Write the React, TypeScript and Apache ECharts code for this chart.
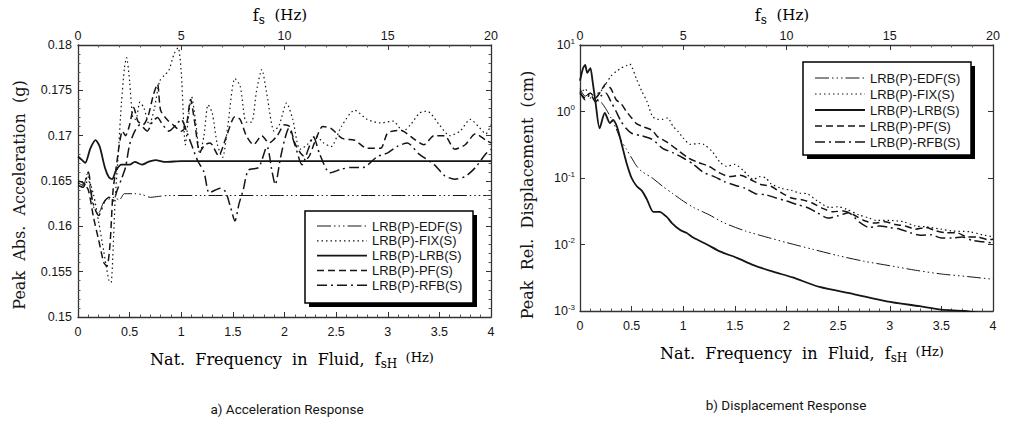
import React, { useEffect, useRef } from "react";
import * as echarts from "echarts";

const seriesNames = ["LRB(P)-EDF(S)", "LRB(P)-FIX(S)", "LRB(P)-LRB(S)", "LRB(P)-PF(S)", "LRB(P)-RFB(S)"];
const captions = ["a) Acceleration Response", "b) Displacement Response"];

// a) Peak absolute acceleration (g) vs f_sH (Hz)
const accEDF: [number, number][] = [
  [0, 0.1648], [0.05, 0.1645], [0.09, 0.1658], [0.12, 0.1640], [0.16, 0.1618], [0.2, 0.1615], [0.25, 0.1627],
  [0.3, 0.163], [0.35, 0.1632], [0.4, 0.1629], [0.45, 0.1636], [0.55, 0.1636], [0.62, 0.1635], [0.7, 0.1632],
  [0.78, 0.1633], [0.88, 0.1634], [1.2, 0.1634], [2, 0.1634], [3, 0.1634], [4, 0.1634],
];
const accFIX: [number, number][] = [
  [0, 0.1648], [0.05, 0.1646], [0.1, 0.165], [0.15, 0.1635], [0.2, 0.1605], [0.25, 0.1572], [0.3, 0.154],
  [0.32, 0.1538], [0.34, 0.1575], [0.36, 0.163], [0.39, 0.168], [0.42, 0.1735], [0.45, 0.1775], [0.47, 0.1786],
  [0.5, 0.176], [0.53, 0.172], [0.56, 0.1718], [0.6, 0.1737], [0.64, 0.173], [0.69, 0.1712], [0.74, 0.173],
  [0.79, 0.176], [0.84, 0.1767], [0.88, 0.1772], [0.93, 0.179], [0.97, 0.1797], [1.0, 0.177], [1.04, 0.169],
  [1.07, 0.172], [1.1, 0.1743], [1.14, 0.1715], [1.18, 0.168], [1.22, 0.17], [1.26, 0.1734], [1.3, 0.1725],
  [1.35, 0.169], [1.4, 0.1676], [1.45, 0.171], [1.52, 0.1763], [1.57, 0.1755], [1.63, 0.1715], [1.68, 0.1715],
  [1.73, 0.175], [1.78, 0.1773], [1.83, 0.1745], [1.9, 0.1705], [1.95, 0.1712], [2.02, 0.1736], [2.08, 0.1718],
  [2.15, 0.1685], [2.22, 0.169], [2.3, 0.17], [2.38, 0.1692], [2.45, 0.1688], [2.55, 0.171], [2.68, 0.1728],
  [2.8, 0.1718], [2.93, 0.1714], [3.05, 0.1716], [3.15, 0.1705], [3.22, 0.1712], [3.31, 0.1725], [3.38, 0.1727],
  [3.5, 0.1712], [3.6, 0.17], [3.7, 0.1705], [3.8, 0.1718], [3.88, 0.171], [3.95, 0.1702], [4, 0.1712],
];
const accLRB: [number, number][] = [
  [0, 0.1677], [0.04, 0.1673], [0.07, 0.167], [0.12, 0.1686], [0.17, 0.1695], [0.21, 0.1688], [0.26, 0.1665],
  [0.3, 0.1654], [0.33, 0.1652], [0.37, 0.1662], [0.42, 0.1668], [0.5, 0.1668], [0.55, 0.1671], [0.62, 0.1668],
  [0.68, 0.1671], [0.75, 0.1673], [0.85, 0.1671], [1, 0.1672], [2, 0.1672], [3, 0.1672], [4, 0.1672],
];
const accPF: [number, number][] = [
  [0, 0.165], [0.05, 0.1648], [0.1, 0.164], [0.15, 0.161], [0.2, 0.1585], [0.25, 0.156], [0.28, 0.1556],
  [0.31, 0.158], [0.34, 0.164], [0.37, 0.1665], [0.4, 0.169], [0.43, 0.1705], [0.46, 0.17], [0.5, 0.1712],
  [0.54, 0.1731], [0.58, 0.1716], [0.63, 0.1712], [0.68, 0.1722], [0.73, 0.1745], [0.77, 0.1757], [0.8, 0.1728],
  [0.86, 0.1718], [0.92, 0.1712], [1.0, 0.1705], [1.05, 0.1712], [1.09, 0.174], [1.13, 0.1715], [1.18, 0.1682],
  [1.23, 0.169], [1.28, 0.1692], [1.36, 0.1678], [1.44, 0.17], [1.52, 0.1721], [1.57, 0.1718], [1.63, 0.17],
  [1.7, 0.169], [1.78, 0.17], [1.85, 0.1692], [1.93, 0.17], [2.0, 0.1712], [2.05, 0.171], [2.1, 0.1692],
  [2.16, 0.168], [2.22, 0.1675], [2.3, 0.1695], [2.37, 0.171], [2.45, 0.1708], [2.56, 0.1697], [2.68, 0.1695],
  [2.8, 0.1686], [2.93, 0.1686], [3.0, 0.1703], [3.12, 0.1706], [3.27, 0.1695], [3.35, 0.169], [3.45, 0.17],
  [3.55, 0.17], [3.65, 0.1685], [3.75, 0.169], [3.85, 0.1702], [3.95, 0.1695], [4, 0.1692],
];
const accRFB: [number, number][] = [
  [0, 0.1645], [0.05, 0.1643], [0.1, 0.166], [0.14, 0.1628], [0.2, 0.1612], [0.26, 0.1628], [0.3, 0.1632],
  [0.34, 0.1628], [0.38, 0.164], [0.42, 0.1652], [0.46, 0.1665], [0.5, 0.169], [0.55, 0.1705], [0.6, 0.1712],
  [0.67, 0.1705], [0.72, 0.1715], [0.77, 0.172], [0.82, 0.1712], [0.88, 0.1705], [0.95, 0.1712], [1.0, 0.1718],
  [1.05, 0.1705], [1.1, 0.169], [1.16, 0.1672], [1.22, 0.166], [1.27, 0.1637], [1.33, 0.164], [1.38, 0.1642],
  [1.43, 0.1638], [1.48, 0.162], [1.52, 0.1606], [1.56, 0.1625], [1.6, 0.164], [1.65, 0.1662], [1.75, 0.1665],
  [1.83, 0.1688], [1.88, 0.166], [1.91, 0.1646], [1.96, 0.1675], [2.0, 0.1695], [2.04, 0.1708], [2.1, 0.169],
  [2.17, 0.1668], [2.23, 0.1685], [2.28, 0.1699], [2.34, 0.168], [2.44, 0.1659], [2.55, 0.1663], [2.65, 0.1665],
  [2.76, 0.1665], [2.9, 0.1677], [3.0, 0.1681], [3.09, 0.1688], [3.19, 0.1692], [3.3, 0.168], [3.45, 0.1668],
  [3.55, 0.1656], [3.65, 0.1652], [3.75, 0.1655], [3.85, 0.1665], [3.95, 0.168], [4, 0.1685],
];

// b) Peak relative displacement (cm) vs f_sH (Hz), log scale
const dispEDF: [number, number][] = [
  [0, 2.2], [0.05, 1.7], [0.1, 1.9], [0.15, 1.5], [0.2, 1.4], [0.25, 1.1], [0.3, 0.8], [0.35, 0.55], [0.4, 0.36],
  [0.45, 0.27], [0.5, 0.2], [0.55, 0.15], [0.6, 0.125], [0.7, 0.1], [0.8, 0.075], [0.9, 0.058], [1.0, 0.045],
  [1.1, 0.036], [1.25, 0.028], [1.4, 0.021], [1.6, 0.016], [1.8, 0.013], [2.0, 0.0107], [2.25, 0.0085],
  [2.5, 0.0068], [2.75, 0.0056], [3.0, 0.0048], [3.25, 0.0041], [3.5, 0.0036], [3.75, 0.0033], [4, 0.003],
];
const dispFIX: [number, number][] = [
  [0, 1.8], [0.05, 2.2], [0.1, 1.6], [0.15, 1.8], [0.2, 2.0], [0.25, 2.6], [0.3, 3.4], [0.35, 4.0], [0.4, 4.5],
  [0.45, 4.9], [0.48, 5.2], [0.55, 3.0], [0.6, 2.0], [0.65, 1.4], [0.7, 0.85], [0.75, 0.76], [0.8, 0.76],
  [0.85, 0.8], [0.9, 0.6], [0.95, 0.5], [1.0, 0.4], [1.07, 0.32], [1.15, 0.33], [1.2, 0.32], [1.28, 0.25],
  [1.36, 0.17], [1.42, 0.15], [1.5, 0.16], [1.58, 0.13], [1.68, 0.095], [1.74, 0.105], [1.8, 0.1], [1.85, 0.082],
  [1.95, 0.07], [2.05, 0.065], [2.13, 0.059], [2.2, 0.058], [2.3, 0.045], [2.42, 0.036], [2.5, 0.037],
  [2.58, 0.034], [2.7, 0.028], [2.8, 0.025], [2.87, 0.023], [3.0, 0.023], [3.13, 0.022], [3.25, 0.019],
  [3.35, 0.0185], [3.5, 0.017], [3.6, 0.016], [3.78, 0.0155], [3.9, 0.014], [4, 0.013],
];
const dispLRB: [number, number][] = [
  [0, 2.9], [0.03, 4.5], [0.05, 5.0], [0.07, 3.8], [0.1, 4.5], [0.12, 3.0], [0.15, 1.4], [0.19, 0.56],
  [0.24, 0.95], [0.29, 0.67], [0.32, 0.75], [0.36, 0.58], [0.4, 0.34], [0.45, 0.17], [0.5, 0.1], [0.55, 0.075],
  [0.6, 0.064], [0.65, 0.047], [0.71, 0.031], [0.77, 0.031], [0.84, 0.026], [0.89, 0.021], [0.97, 0.0165],
  [1.03, 0.015], [1.1, 0.0126], [1.23, 0.01], [1.36, 0.0078], [1.52, 0.0063], [1.68, 0.0049], [1.87, 0.0039],
  [2.06, 0.0032], [2.32, 0.0023], [2.65, 0.0018], [2.97, 0.0014], [3.29, 0.00118], [3.5, 0.00105],
  [3.72, 0.001], [4, 0.00088],
];
const dispPF: [number, number][] = [
  [0, 1.9], [0.05, 1.6], [0.1, 1.9], [0.15, 1.6], [0.2, 2.0], [0.25, 2.6], [0.3, 2.2], [0.35, 1.5], [0.4, 1.3],
  [0.45, 1.0], [0.5, 0.8], [0.55, 0.65], [0.6, 0.6], [0.7, 0.52], [0.75, 0.42], [0.85, 0.34], [0.95, 0.26],
  [1.05, 0.2], [1.15, 0.17], [1.25, 0.15], [1.35, 0.12], [1.45, 0.105], [1.55, 0.11], [1.65, 0.095], [1.75, 0.08],
  [1.85, 0.075], [1.95, 0.06], [2.05, 0.05], [2.15, 0.047], [2.25, 0.042], [2.35, 0.035], [2.45, 0.031],
  [2.55, 0.032], [2.65, 0.028], [2.75, 0.023], [2.85, 0.021], [2.95, 0.022], [3.05, 0.02], [3.15, 0.019],
  [3.25, 0.017], [3.35, 0.018], [3.45, 0.016], [3.55, 0.015], [3.65, 0.015], [3.75, 0.013], [3.85, 0.013],
  [3.95, 0.0118], [4, 0.012],
];
const dispRFB: [number, number][] = [
  [0, 2.0], [0.05, 1.5], [0.1, 1.8], [0.15, 1.4], [0.2, 1.7], [0.25, 1.9], [0.3, 1.4], [0.35, 1.0], [0.4, 0.7],
  [0.45, 0.55], [0.5, 0.47], [0.6, 0.43], [0.7, 0.38], [0.8, 0.28], [0.9, 0.24], [1.0, 0.2], [1.1, 0.16],
  [1.2, 0.12], [1.3, 0.105], [1.4, 0.088], [1.5, 0.078], [1.6, 0.07], [1.7, 0.058], [1.8, 0.056], [1.9, 0.05],
  [2.0, 0.045], [2.1, 0.04], [2.2, 0.036], [2.3, 0.03], [2.4, 0.025], [2.5, 0.027], [2.6, 0.03], [2.7, 0.022],
  [2.8, 0.018], [2.9, 0.019], [3.0, 0.018], [3.1, 0.017], [3.2, 0.015], [3.3, 0.0138], [3.4, 0.014],
  [3.5, 0.0125], [3.6, 0.0125], [3.7, 0.013], [3.8, 0.0115], [3.9, 0.011], [4, 0.0105],
];

const accSeries = [accEDF, accFIX, accLRB, accPF, accRFB];
const dispSeries = [dispEDF, dispFIX, dispLRB, dispPF, dispRFB];

const INK = "#151515";
const SERIF = "'DejaVu Serif', 'Liberation Serif', serif";
const SANS = "'Liberation Sans', Arial, sans-serif";
const NARROW = "'Liberation Sans Narrow', 'Roboto', sans-serif";

const lineStyles: { width: number; dash: number[] | null }[] = [
  { width: 1, dash: [14, 3, 1.5, 3, 1.5, 3, 1.5, 3] },
  { width: 1.2, dash: [1.5, 3] },
  { width: 1.8, dash: null },
  { width: 1.5, dash: [7, 4] },
  { width: 1.5, dash: [10, 4, 2, 4] },
];

const G0 = { left: 78, top: 45, width: 413, height: 272 };
const G1 = { left: 580, top: 45, width: 413, height: 266 };

function legend(x: number, y: number, w: number, h: number, row0: number, gap: number) {
  const els: any[] = [];
  els.push({ type: "rect", z: 100, shape: { x: x + 4, y: y + 4, width: w, height: h }, style: { fill: "#000" } });
  els.push({ type: "rect", z: 101, shape: { x, y, width: w, height: h }, style: { fill: "#fff", stroke: "#000", lineWidth: 1.5 } });
  seriesNames.forEach((n, i) => {
    const yy = row0 + i * gap;
    const ls = lineStyles[i];
    els.push({
      type: "line", z: 102,
      shape: { x1: x + 12, y1: yy, x2: x + 62, y2: yy },
      style: { stroke: INK, lineWidth: ls.width, lineDash: ls.dash || undefined },
    });
    els.push({
      type: "text", z: 102, x: x + 67, y: yy,
      style: { text: n, fontSize: 13, fontFamily: SANS, fill: INK, align: "left", verticalAlign: "middle" },
    });
  });
  return els;
}

function axisBase(extra: any) {
  return {
    axisLine: { show: true, onZero: false, lineStyle: { color: "#333", width: 1.3 } },
    axisTick: { show: true, inside: true, length: 5, lineStyle: { color: "#333", width: 1 } },
    splitLine: { show: false },
    ...extra,
  };
}

const fsLabelRich = {
  f: { fontSize: 16, fontFamily: SERIF, color: INK },
  s: { fontSize: 12, fontFamily: SERIF, color: INK, padding: [9, 0, 0, 0] },
  h: { fontSize: 15, fontFamily: SERIF, color: INK },
};
const nameRich = {
  ...fsLabelRich,
  h: { fontSize: 13, fontFamily: SERIF, color: INK, padding: [0, 0, 4, 0] },
};

export default function App() {
  const ref = useRef<HTMLDivElement>(null);
  useEffect(() => {
    if (!ref.current) return;
    const chart = echarts.init(ref.current, undefined, { renderer: "svg" });

    const xBottom = (gridIndex: number) =>
      axisBase({
        type: "value", gridIndex, position: "bottom", min: 0, max: 4, interval: 0.5,
        minorTick: { show: true, splitNumber: 5, length: 2.5, lineStyle: { color: "#555" } },
        axisLabel: { margin: 8, fontSize: 12.5, fontFamily: SANS, color: INK, formatter: (v: number) => String(Number(v.toFixed(1))) },
      });
    const xTop = (gridIndex: number) =>
      axisBase({
        type: "value", gridIndex, position: "top", min: 0, max: 20, interval: 5,
        minorTick: { show: true, splitNumber: 5, length: 2.5, lineStyle: { color: "#555" } },
        axisLabel: { margin: 3, fontSize: 12.5, fontFamily: SANS, color: INK },
      });

    const series: any[] = [];
    accSeries.forEach((d, i) => {
      series.push({
        type: "line", name: seriesNames[i], xAxisIndex: 0, yAxisIndex: 0, data: d,
        showSymbol: false, smooth: 0.25, silent: true,
        lineStyle: { color: INK, width: lineStyles[i].width, type: lineStyles[i].dash || "solid" },
      });
    });
    dispSeries.forEach((d, i) => {
      series.push({
        type: "line", name: seriesNames[i], xAxisIndex: 2, yAxisIndex: 2, data: d,
        showSymbol: false, smooth: 0.25, silent: true,
        lineStyle: { color: INK, width: lineStyles[i].width, type: lineStyles[i].dash || "solid" },
      });
    });

    const option: any = {
      animation: false,
      backgroundColor: "#fff",
      grid: [
        { ...G0, containLabel: false },
        { ...G1, containLabel: false },
      ],
      xAxis: [xBottom(0), xTop(0), xBottom(1), xTop(1)],
      yAxis: [
        axisBase({
          type: "value", gridIndex: 0, position: "left", min: 0.15, max: 0.18, interval: 0.005,
          minorTick: { show: true, splitNumber: 5, length: 2.5, lineStyle: { color: "#555" } },
          axisLabel: { margin: 6, fontSize: 12.5, fontFamily: SANS, color: INK, formatter: (v: number) => String(Number(v.toFixed(3))) },
        }),
        axisBase({
          type: "value", gridIndex: 0, position: "right", min: 0.15, max: 0.18, interval: 0.005,
          minorTick: { show: true, splitNumber: 5, length: 2.5, lineStyle: { color: "#555" } },
          axisLabel: { show: false },
        }),
        axisBase({
          type: "log", logBase: 10, gridIndex: 1, position: "left", min: 0.001, max: 10,
          axisLabel: {
            margin: 5, color: INK,
            formatter: (v: number) => `{b|10}{e|${Math.round(Math.log10(v))}}`,
            rich: {
              b: { fontSize: 12.5, fontFamily: SANS, color: INK },
              e: { fontSize: 8, fontFamily: SANS, color: INK, padding: [0, 0, 8, 0] },
            },
          },
        }),
        axisBase({
          type: "log", logBase: 10, gridIndex: 1, position: "right", min: 0.001, max: 10,
          axisLabel: { show: false },
        }),
      ],
      series,
      graphic: [
        // top axis names
        { type: "text", x: 280, y: 15, style: { text: "{f|f}{s|s}{h|  (Hz)}", rich: fsLabelRich, align: "center", verticalAlign: "middle" } },
        { type: "text", x: 782, y: 15, style: { text: "{f|f}{s|s}{h|  (Hz)}", rich: fsLabelRich, align: "center", verticalAlign: "middle" } },
        // bottom axis names
        {
          type: "text", x: 292, y: 359,
          style: { text: "{f|Nat.  Frequency  in  Fluid,  f}{s|sH}{h|  (Hz)}", rich: nameRich, align: "center", verticalAlign: "middle" },
        },
        {
          type: "text", x: 802, y: 353,
          style: { text: "{f|Nat.  Frequency  in  Fluid,  f}{s|sH}{h|  (Hz)}", rich: nameRich, align: "center", verticalAlign: "middle" },
        },
        // y axis names
        {
          type: "text", x: 19, y: 195, rotation: Math.PI / 2,
          style: { text: "Peak  Abs.  Acceleration  (g)", fontSize: 16, fontFamily: SERIF, fill: INK, align: "center", verticalAlign: "middle" },
        },
        {
          type: "text", x: 527, y: 195, rotation: Math.PI / 2,
          style: { text: "Peak  Rel.  Displacement  (cm)", fontSize: 16, fontFamily: SERIF, fill: INK, align: "center", verticalAlign: "middle" },
        },
        // captions
        {
          type: "text", x: 287, y: 409,
          style: { text: captions[0], fontSize: 13.5, fontFamily: NARROW, fill: INK, align: "center", verticalAlign: "middle" },
        },
        {
          type: "text", x: 786, y: 405,
          style: { text: captions[1], fontSize: 13.5, fontFamily: NARROW, fill: INK, align: "center", verticalAlign: "middle" },
        },
        // legends
        ...legend(305, 211, 168, 92, 226, 14.8),
        ...legend(803, 62, 168, 93, 78, 16),
      ],
    };
    chart.setOption(option);
    return () => chart.dispose();
  }, []);
  return <div ref={ref} style={{ position: "absolute", left: 0, top: 0, width: 1011, height: 425 }} />;
}
